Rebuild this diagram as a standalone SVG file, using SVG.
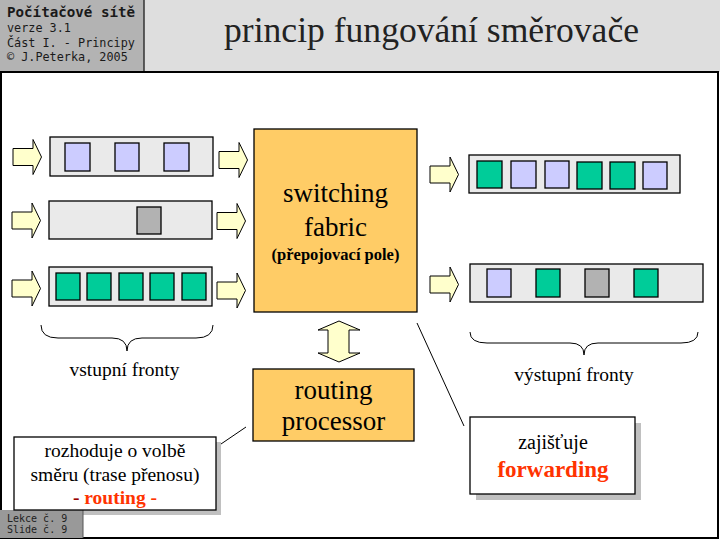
<svg xmlns="http://www.w3.org/2000/svg" xmlns:xlink="http://www.w3.org/1999/xlink" width="720" height="540" viewBox="0 0 720 540">
<style>
.q{fill:#eaeaea;stroke:#000;stroke-width:1.3}
.pl{fill:#ccccff;stroke:#000;stroke-width:1.3}
.pg{fill:#00cc99;stroke:#000;stroke-width:1.3}
.pk{fill:#b2b2b2;stroke:#000;stroke-width:1.3}
.arr{fill:#ffffcc;stroke:#000;stroke-width:1}
.box{fill:#ffcc66;stroke:#000;stroke-width:1.3}
.note{fill:#fff;stroke:#000;stroke-width:1.3}
.shadow{fill:#c0c0c0}
.ln{stroke:#000;stroke-width:1;fill:none}
.serif{font-family:"Liberation Serif","Times New Roman",serif}
.mono{font-family:"DejaVu Sans Mono","Liberation Mono",monospace}
.c{text-anchor:middle}
</style>
<defs>
<path id="ra" d="M0,-8.5 H20 V-17.5 L28.5,0 L20,17.5 V8.5 H0 Z"/>
</defs>
<g id="header">
<rect x="0" y="0" width="720" height="72" fill="#dedede"/>
<rect x="0" y="0" width="144" height="72" fill="#b3b3b3"/>
<line x1="144" y1="0" x2="144" y2="72" stroke="#333" stroke-width="1.5"/>
<text class="mono" x="7" y="17" font-size="14.2" font-weight="bold" fill="#1a1a1a">Počítačové sítě</text>
<text class="mono" x="7" y="32" font-size="11.8" fill="#1a1a1a">verze 3.1</text>
<text class="mono" x="7" y="47" font-size="11.8" fill="#1a1a1a">Část I. - Principy</text>
<text class="mono" x="7" y="61" font-size="11.8" fill="#1a1a1a">© J.Peterka, 2005</text>
<text class="serif c" x="431.5" y="42" font-size="35.6" fill="#222">princip fungování směrovače</text>
</g>
<rect id="frame" x="1" y="72" width="717" height="466" fill="#fff" stroke="#000" stroke-width="2"/>
<g id="in-queue-1">
<rect class="q" x="50" y="137" width="163" height="39"/>
<rect class="pl" x="65" y="143" width="25" height="28"/>
<rect class="pl" x="115" y="143" width="24" height="28"/>
<rect class="pl" x="164" y="143" width="25" height="28"/>
</g>
<g id="in-queue-2">
<rect class="q" x="49" y="201" width="163" height="38"/>
<rect class="pk" x="137" y="207" width="24" height="27"/>
</g>
<g id="in-queue-3">
<rect class="q" x="49" y="267" width="163" height="39"/>
<rect class="pg" x="56" y="273" width="24" height="27"/>
<rect class="pg" x="87" y="273" width="24" height="27"/>
<rect class="pg" x="119" y="273" width="24" height="27"/>
<rect class="pg" x="150" y="273" width="24" height="27"/>
<rect class="pg" x="182" y="273" width="24" height="27"/>
</g>
<g id="out-queue-1">
<rect class="q" x="469" y="155" width="211" height="38"/>
<rect class="pg" x="477" y="161" width="25" height="27"/>
<rect class="pl" x="511" y="161" width="25" height="27"/>
<rect class="pl" x="545" y="161" width="24" height="27"/>
<rect class="pg" x="577" y="162" width="25" height="27"/>
<rect class="pg" x="610" y="162" width="25" height="27"/>
<rect class="pl" x="643" y="162" width="24" height="27"/>
</g>
<g id="out-queue-2">
<rect class="q" x="470" y="264" width="233" height="38"/>
<rect class="pl" x="487" y="269" width="24" height="28"/>
<rect class="pg" x="536" y="269" width="24" height="28"/>
<rect class="pk" x="585" y="269" width="24" height="28"/>
<rect class="pg" x="634" y="269" width="24" height="28"/>
</g>
<g id="switching-fabric">
<rect class="box" x="254" y="129" width="163" height="183"/>
<text class="serif c" x="335.5" y="202" font-size="27">switching</text>
<text class="serif c" x="335.5" y="236" font-size="27">fabric</text>
<text class="serif c" x="335.5" y="260" font-size="16.5" font-weight="bold">(přepojovací pole)</text>
</g>
<g id="routing-processor">
<rect class="box" x="253" y="369" width="161" height="72"/>
<text class="serif c" x="333.5" y="399" font-size="27">routing</text>
<text class="serif c" x="333.5" y="430" font-size="27">processor</text>
</g>
<g id="label-inputs">
<path class="ln" d="M41,325 Q41,338 58,338 H112 Q127,338 127,351 Q127,338 142,338 H196 Q213,338 213,325"/>
<text class="serif c" x="124.5" y="376" font-size="19.5">vstupní fronty</text>
</g>
<g id="label-outputs">
<path class="ln" d="M470,332 Q470,343 487,343 H570 Q584,343 584,355 Q584,343 598,343 H681 Q698,343 698,332"/>
<text class="serif c" x="574" y="381" font-size="19.5">výstupní fronty</text>
</g>
<g id="connectors">
<use xlink:href="#ra" class="arr" x="13" y="157"/>
<use xlink:href="#ra" class="arr" x="219" y="160"/>
<use xlink:href="#ra" class="arr" x="12" y="220.5"/>
<use xlink:href="#ra" class="arr" x="217" y="221"/>
<use xlink:href="#ra" class="arr" x="12" y="288.5"/>
<use xlink:href="#ra" class="arr" x="217" y="290.5"/>
<use xlink:href="#ra" class="arr" x="430" y="174.5"/>
<use xlink:href="#ra" class="arr" x="430" y="284.5"/>
<path class="arr" d="M339,321 L360,330 H349 V353 H360 L339,362 L318,353 H328 V330 H318 Z"/>
<line class="ln" x1="221" y1="444" x2="246" y2="427"/>
<line class="ln" x1="417" y1="323" x2="464" y2="426"/>
</g>
<rect class="shadow" x="19" y="442" width="202" height="73"/>
<g id="footer">
<rect x="0" y="510" width="83" height="28" fill="#999"/>
<line x1="83" y1="510" x2="83" y2="538" stroke="#555" stroke-width="1"/>
<text class="mono" x="7" y="522" font-size="10" fill="#222">Lekce č. 9</text>
<text class="mono" x="7" y="533" font-size="10" fill="#222">Slide č. 9</text>
</g>
<g id="callout-routing">
<rect class="note" x="14" y="437" width="202" height="73"/>
<text class="serif c" x="115" y="457" font-size="19.5">rozhoduje o volbě</text>
<text class="serif c" x="115" y="481" font-size="19.5">směru (trase přenosu)</text>
<text class="serif c" x="115" y="504" font-size="19.5" font-weight="bold"><tspan fill="#990000">- </tspan><tspan fill="#ff3300">routing -</tspan></text>
</g>
<g id="callout-forwarding">
<rect class="shadow" x="476" y="423" width="165" height="77"/>
<rect class="note" x="470" y="417" width="165" height="77"/>
<text class="serif c" x="553" y="449" font-size="20">zajišťuje</text>
<text class="serif c" x="553" y="477" font-size="23" font-weight="bold" fill="#ff3300">forwarding</text>
</g>
</svg>
